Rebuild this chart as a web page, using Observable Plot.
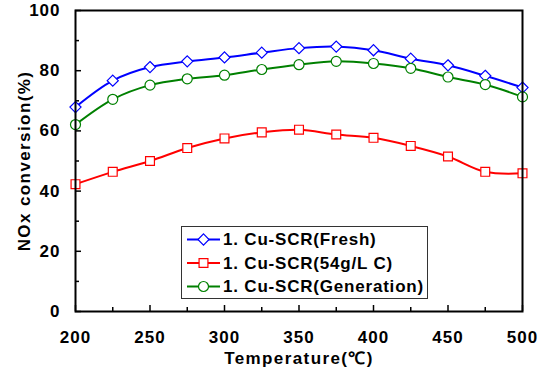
<!DOCTYPE html>
<html><head><meta charset="utf-8">
<script src="https://cdn.jsdelivr.net/npm/d3@7"></script>
<script src="https://cdn.jsdelivr.net/npm/@observablehq/plot@0.6"></script>
<style>
body{margin:0;background:#fff}
#wrap{position:relative;width:548px;height:370px;font-family:"Liberation Sans",Arial,sans-serif}
#legend{position:absolute;left:181px;top:226px;width:245px;height:71px;border:1px solid #333;background:#fff}
#wrap svg g[aria-label="x-axis label"] text, #wrap svg g[aria-label="y-axis label"] text{letter-spacing:1.4px}
</style>
</head><body><div id="wrap"><div id="legend"></div></div>
<script>
const temps = [200,225,250,275,300,325,350,375,400,425,450,475,500];
const fresh  = [67.9,76.7,81.2,83.1,84.4,86.0,87.5,88.0,86.8,84.0,81.8,78.3,74.4];
const carbon = [42.3,46.4,50.0,54.3,57.5,59.5,60.4,58.8,57.7,55.0,51.5,46.4,45.9];
const regen  = [62.1,70.5,75.2,77.3,78.5,80.4,82.0,83.1,82.4,80.8,77.9,75.4,71.3];
const seriesNames = ["1. Cu-SCR(Fresh)","1. Cu-SCR(54g/L C)","1. Cu-SCR(Generation)"];
const seriesColors = ["#0000ff","#ff0000","#008000"];
const seriesSymbols = ["diamond2","square","circle"];
const xTicks = [200,250,300,350,400,450,500];
const xMinor = [225,275,325,375,425,475];
const yTicks = [0,20,40,60,80,100];
const yMinor = [10,30,50,70,90];

const seriesValues = [fresh, carbon, regen];
const rows = seriesValues.flatMap((vals, i) => temps.map((t, j) => ({t, v: vals[j], s: seriesNames[i]})));

const color = {domain: seriesNames, range: seriesColors};
const font = {fontFamily: '"Liberation Sans", Arial, sans-serif', fontSize: "17px", fontWeight: "bold"};

const chart = Plot.plot({
  width: 548, height: 370,
  marginLeft: 75, marginRight: 26, marginTop: 10, marginBottom: 59,
  style: {...font, letterSpacing: "1px", background: "#fff", color: "#000", overflow: "visible"},
  x: {domain: [200, 500]},
  y: {domain: [0, 100]},
  color,
  symbol: {domain: seriesNames, range: seriesSymbols},
  marks: [
    Plot.axisX({ticks: xTicks, tickSize: -6, tickFormat: () => "", strokeWidth: 1.5, label: null}),
    Plot.axisX({ticks: xMinor, tickSize: -4, tickFormat: () => "", strokeWidth: 1.5, label: null}),
    Plot.axisY({ticks: yTicks, tickSize: -6, tickFormat: () => "", strokeWidth: 1.5, label: null}),
    Plot.axisY({ticks: yMinor, tickSize: -4, tickFormat: () => "", strokeWidth: 1.5, label: null}),
    Plot.axisX({ticks: xTicks, tickSize: 0, tickPadding: 19, label: "Temperature(℃)", labelAnchor: "center", labelArrow: "none", labelOffset: 52}),
    Plot.axisY({ticks: yTicks, tickSize: 0, tickPadding: 15, label: "NOx conversion(%)", labelAnchor: "center", labelArrow: "none", labelOffset: 58}),
    Plot.line(rows, {x: "t", y: "v", z: "s", stroke: "s", strokeWidth: 2, curve: "catmull-rom"}),
    Plot.dot(rows, {x: "t", y: "v", stroke: "s", symbol: "s", fill: "#fff", r: 5, strokeWidth: 1.2}),
    Plot.frame({stroke: "#000", strokeWidth: 2})
  ]
});
document.getElementById("wrap").prepend(chart);

// legend
const lg = d3.select("#legend").append("svg").attr("width", 245).attr("height", 71)
  .style("position", "absolute").style("left", 0).style("top", 0);
const symMap = {diamond2: d3.symbolDiamond2, square: d3.symbolSquare, circle: d3.symbolCircle};
seriesNames.forEach((name, i) => {
  const g = lg.append("g").attr("transform", `translate(0,${12.5 + i * 23.5})`);
  g.append("line").attr("x1", 5).attr("x2", 38).attr("y1", 0).attr("y2", 0)
    .attr("stroke", seriesColors[i]).attr("stroke-width", 2);
  g.append("path").attr("d", d3.symbol(symMap[seriesSymbols[i]], Math.PI * 25)())
    .attr("transform", "translate(21.5,0)")
    .attr("fill", "#fff").attr("stroke", seriesColors[i]).attr("stroke-width", 1.2);
  g.append("text").attr("x", 41).attr("y", 0).attr("dy", "0.35em")
    .style("font-family", font.fontFamily).style("font-size", "17px").style("font-weight", "bold")
    .style("letter-spacing", "0.8px")
    .text(name);
});
</script>
</body></html>
